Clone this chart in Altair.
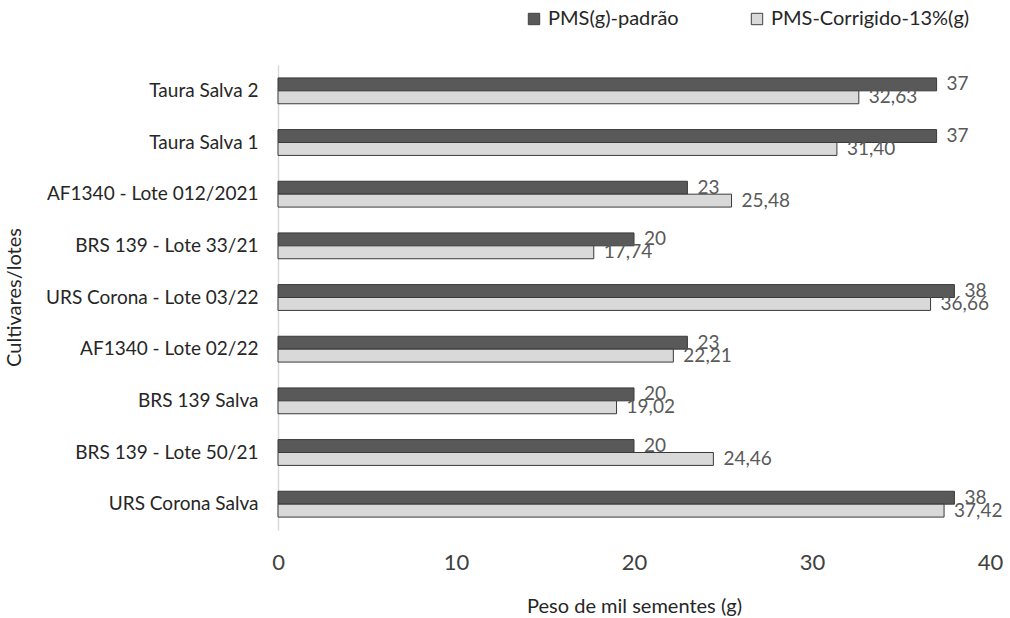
import altair as alt
import pandas as pd

categories = [
    "Taura Salva 2",
    "Taura Salva 1",
    "AF1340 - Lote 012/2021",
    "BRS 139 - Lote 33/21",
    "URS Corona - Lote 03/22",
    "AF1340 - Lote 02/22",
    "BRS 139 Salva",
    "BRS 139 - Lote 50/21",
    "URS Corona Salva",
]
series_names = ["PMS(g)-padrão", "PMS-Corrigido-13%(g)"]
pms_padrao = [37, 37, 23, 20, 38, 23, 20, 20, 38]
pms_corrigido = [32.63, 31.40, 25.48, 17.74, 36.66, 22.21, 19.02, 24.46, 37.42]
x_ticks = [0, 10, 20, 30, 40]

rows = []
for c, v in zip(categories, pms_padrao):
    rows.append({"cat": c, "serie": series_names[0], "valor": v, "rotulo": f"{v:d}"})
for c, v in zip(categories, pms_corrigido):
    rows.append({"cat": c, "serie": series_names[1], "valor": v,
                 "rotulo": f"{v:.2f}".replace(".", ",")})
df = pd.DataFrame(rows)

FONT = "Lato"

y_enc = alt.Y(
    "cat:N",
    sort=categories,
    scale=alt.Scale(paddingInner=0.5, paddingOuter=0.25),
    axis=alt.Axis(
        title="Cultivares/lotes",
        titleFont=FONT, titleFontSize=20, titleFontWeight="normal", titleColor="#262626",
        titleX=-264, titleY=232, titleAngle=-90, titleAlign="center", titleBaseline="middle",
        labelFont=FONT, labelFontSize=19, labelColor="#262626", labelPadding=20,
        labelLimit=400,
        ticks=False, tickSize=0, domainColor="#d9d9d9", domainWidth=1.5, grid=False,
    ),
)
yoff_enc = alt.YOffset("serie:N", sort=series_names, scale=alt.Scale(paddingInner=0, paddingOuter=0))

x_enc = alt.X(
    "valor:Q",
    scale=alt.Scale(domain=[0, 40], nice=False),
    axis=alt.Axis(
        values=x_ticks, format="d",
        title="Peso de mil sementes (g)",
        titleFont=FONT, titleFontSize=20, titleFontWeight="normal", titleColor="#262626",
        titleY=76, titleBaseline="middle",
        labelFont=FONT, labelFontSize=22, labelColor="#404040", labelPadding=22,
        labelFlush=False,
        ticks=False, tickSize=0, domain=False, grid=False,
    ),
)

color_enc = alt.Color(
    "serie:N",
    sort=series_names,
    scale=alt.Scale(domain=series_names, range=["#595959", "#d9d9d9"]),
    legend=alt.Legend(
        title=None, orient="none", direction="horizontal",
        legendX=246, legendY=-56,
        symbolType="square", symbolSize=130, symbolStrokeColor="#404040", symbolStrokeWidth=1,
        labelFont=FONT, labelFontSize=20, labelColor="#262626", labelOffset=4,
        labelLimit=400, columnPadding=68,
    ),
)

bars = alt.Chart(df).mark_bar(stroke="#3a3a3a", strokeWidth=1).encode(
    y=y_enc, yOffset=yoff_enc, x=x_enc, color=color_enc
)

labels = alt.Chart(df).mark_text(
    align="left", baseline="middle", dx=10, font=FONT, fontSize=19, color="#595959"
).encode(
    y=alt.Y("cat:N", sort=categories),
    yOffset=alt.YOffset("serie:N", sort=series_names),
    x=alt.X("valor:Q"),
    text="rotulo:N",
)

chart = (
    alt.layer(bars, labels)
    .properties(
        width=712, height=465,
        autosize=alt.AutoSizeParams(type="none"),
        padding={"left": 278, "top": 65, "right": 20, "bottom": 88},
        background="white",
    )
    .configure_view(stroke=None)
)

chart.save("out.html", embed_options={"renderer": "svg", "actions": False})
